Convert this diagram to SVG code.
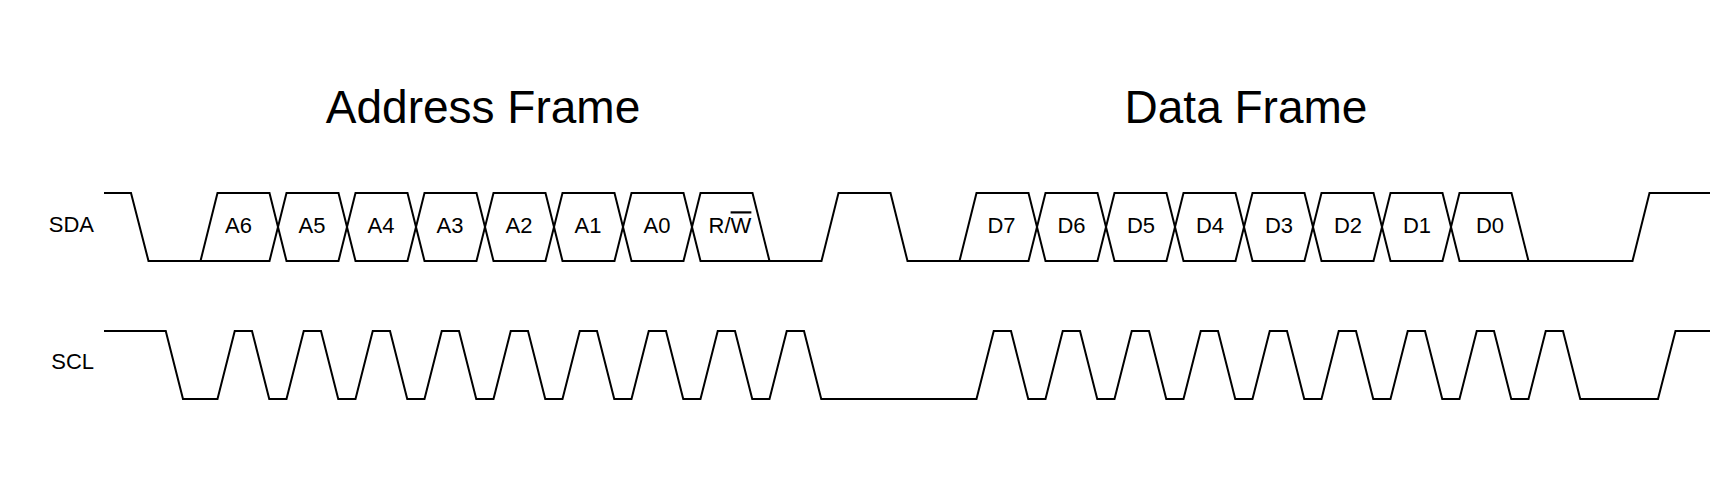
<svg xmlns="http://www.w3.org/2000/svg" width="1736" height="502" viewBox="0 0 1736 502">
<style>
.wave{fill:none;stroke:#000;stroke-width:2;stroke-linejoin:miter}
.title{font-family:"Liberation Sans",Arial,sans-serif;font-size:46px;fill:#000;text-anchor:middle}
.sig{font-family:"Liberation Sans",Arial,sans-serif;font-size:22px;fill:#000;text-anchor:end}
.bit{font-family:"Liberation Sans",Arial,sans-serif;font-size:22px;fill:#000;text-anchor:middle}
</style>
<rect width="1736" height="502" fill="#fff"/>
<g id="title-address"><text class="title" x="483" y="123">Address Frame</text></g>
<g id="title-data"><text class="title" x="1246" y="123">Data Frame</text></g>
<g id="label-sda"><text class="sig" x="94" y="232">SDA</text></g>
<g id="label-scl"><text class="sig" x="94" y="369">SCL</text></g>
<g id="connectors">
<path id="sda-a" class="wave" d="M104,193 H131 L148.5,261 H200.5 L217.5,193 H269.5 L286.5,261 H338.5 L355.5,193 H407.5 L424.5,261 H476.5 L493.5,193 H545.5 L562.5,261 H614.5 L631.5,193 H683.5 L700.5,261 H821.5 L838.5,193 H890.5 L907.5,261 H959.5 L976.5,193 H1028.5 L1045.5,261 H1097.5 L1114.5,193 H1166.5 L1183.5,261 H1235.5 L1252.5,193 H1304.5 L1321.5,261 H1373.5 L1390.5,193 H1442.5 L1459.5,261 H1632.5 L1649.5,193 H1710"/>
<path id="sda-b" class="wave" d="M200.5,261 H269.5 L286.5,193 H338.5 L355.5,261 H407.5 L424.5,193 H476.5 L493.5,261 H545.5 L562.5,193 H614.5 L631.5,261 H683.5 L700.5,193 H752.5 L769.5,261"/>
<path id="sda-c" class="wave" d="M959.5,261 H1028.5 L1045.5,193 H1097.5 L1114.5,261 H1166.5 L1183.5,193 H1235.5 L1252.5,261 H1304.5 L1321.5,193 H1373.5 L1390.5,261 H1442.5 L1459.5,193 H1511.5 L1528.5,261"/>
<path id="scl" class="wave" d="M104,331 H165.75 L183,399 H217.5
L234.75,331 H252 L269.25,399 H286.5
L303.75,331 H321 L338.25,399 H355.5
L372.75,331 H390 L407.25,399 H424.5
L441.75,331 H459 L476.25,399 H493.5
L510.75,331 H528 L545.25,399 H562.5
L579.75,331 H597 L614.25,399 H631.5
L648.75,331 H666 L683.25,399 H700.5
L717.75,331 H735 L752.25,399 H769.5
L786.75,331 H804 L821.25,399 H976.5
L993.75,331 H1011 L1028.25,399 H1045.5
L1062.75,331 H1080 L1097.25,399 H1114.5
L1131.75,331 H1149 L1166.25,399 H1183.5
L1200.75,331 H1218 L1235.25,399 H1252.5
L1269.75,331 H1287 L1304.25,399 H1321.5
L1338.75,331 H1356 L1373.25,399 H1390.5
L1407.75,331 H1425 L1442.25,399 H1459.5
L1476.75,331 H1494 L1511.25,399 H1528.5
L1545.75,331 H1563 L1580.25,399 H1658 L1675.5,331 H1710"/>
</g>
<g id="bit-a6"><text class="bit" x="238.5" y="233.3">A6</text></g>
<g id="bit-a5"><text class="bit" x="312" y="233.3">A5</text></g>
<g id="bit-a4"><text class="bit" x="381" y="233.3">A4</text></g>
<g id="bit-a3"><text class="bit" x="450" y="233.3">A3</text></g>
<g id="bit-a2"><text class="bit" x="519" y="233.3">A2</text></g>
<g id="bit-a1"><text class="bit" x="588" y="233.3">A1</text></g>
<g id="bit-a0"><text class="bit" x="657" y="233.3">A0</text></g>
<g id="bit-rw"><text class="bit" x="730" y="233.3">R/<tspan text-decoration="overline">W</tspan></text></g>
<g id="bit-d7"><text class="bit" x="1001.5" y="233.3">D7</text></g>
<g id="bit-d6"><text class="bit" x="1071.5" y="233.3">D6</text></g>
<g id="bit-d5"><text class="bit" x="1141" y="233.3">D5</text></g>
<g id="bit-d4"><text class="bit" x="1210" y="233.3">D4</text></g>
<g id="bit-d3"><text class="bit" x="1279" y="233.3">D3</text></g>
<g id="bit-d2"><text class="bit" x="1348" y="233.3">D2</text></g>
<g id="bit-d1"><text class="bit" x="1417" y="233.3">D1</text></g>
<g id="bit-d0"><text class="bit" x="1490" y="233.3">D0</text></g>
</svg>
